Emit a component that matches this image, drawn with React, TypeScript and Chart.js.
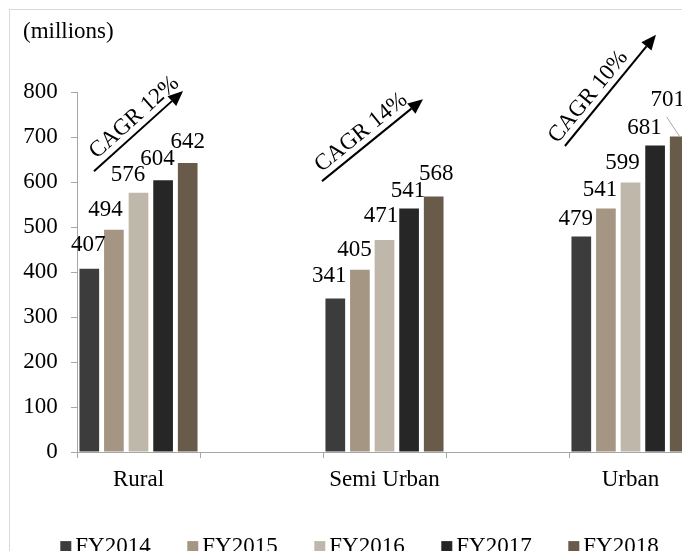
import React, { useEffect, useRef } from "react";
import { Chart, registerables } from "chart.js";

Chart.register(...registerables);

// ---- data ----
const categories = ["Rural", "", "Semi Urban", "", "Urban"];
const seriesNames = ["FY2014", "FY2015", "FY2016", "FY2017", "FY2018"];
const fy2014 = [407, null, 341, null, 479];
const fy2015 = [494, null, 405, null, 541];
const fy2016 = [576, null, 471, null, 599];
const fy2017 = [604, null, 541, null, 681];
const fy2018 = [642, null, 568, null, 701];
const cagrText = ["CAGR 12%", null, "CAGR 14%", null, "CAGR 10%"];
const yMin = 0;
const yMax = 800;
const yStep = 100;
const unitTitle = "(millions)";

// ---- styles ----
const FONT = "'Liberation Serif', 'Times New Roman', serif";
const FS = 23;
const colors = ["#3c3c3c", "#a59683", "#bfb7a9", "#262626", "#695b4a"];
const axisColor = "#a6a6a6";

// label nudges [dx, dy from bar top] per series, per category
const labelNudge = [
  [[-1, -24], null, [-6, -22.5], null, [-5.5, -17.5]],
  [[-8.5, -20], null, [-5.5, -20], null, [-6, -18.5]],
  [[-10.5, -18], null, [-3.5, -24], null, [-8, -19.5]],
  [[-5.5, -21], null, [-1, -17.5], null, [-10.5, -17.5]],
  [[0, -21], null, [2.5, -22], null, [-12, -36.5]],
];
// leader lines: [series, category]
const leaders = [[4, 4]];

// arrows in (category offset in category widths, value) space
const arrows = [
  { cat: 0, dx0: -0.362, v0: 624, dx1: 0.362, v1: 802, shift: 6, perp: 13 },
  { cat: 2, dx0: -0.508, v0: 602, dx1: 0.313, v1: 784, shift: -4, perp: 13 },
  { cat: 4, dx0: -0.533, v0: 680, dx1: 0.207, v1: 927, shift: -19, perp: 13 },
];

const titlePlugin = {
  id: "unitTitle",
  afterDraw(chart: any) {
    const ctx = chart.ctx;
    ctx.save();
    ctx.font = `${FS}px ${FONT}`;
    ctx.fillStyle = "#000";
    ctx.textAlign = "left";
    ctx.textBaseline = "middle";
    ctx.fillText(unitTitle, 13, 22);
    ctx.restore();
  },
};

const barLabelPlugin = {
  id: "barLabels",
  afterDatasetsDraw(chart: any) {
    const ctx = chart.ctx;
    ctx.save();
    ctx.font = `${FS}px ${FONT}`;
    ctx.fillStyle = "#000";
    ctx.textAlign = "center";
    ctx.textBaseline = "middle";
    chart.data.datasets.forEach((ds: any, di: number) => {
      const meta = chart.getDatasetMeta(di);
      meta.data.forEach((bar: any, i: number) => {
        const v = ds.data[i];
        if (v == null) return;
        const n = labelNudge[di][i] || [0, -20];
        const x = bar.x + n[0];
        const y = bar.y + n[1];
        ctx.fillText(String(v), x, y);
        if (leaders.some((l) => l[0] === di && l[1] === i)) {
          ctx.save();
          ctx.strokeStyle = axisColor;
          ctx.lineWidth = 1;
          ctx.beginPath();
          ctx.moveTo(x - 1, y + 17);
          ctx.lineTo(bar.x, bar.y);
          ctx.stroke();
          ctx.restore();
        }
      });
    });
    ctx.restore();
  },
};

const arrowPlugin = {
  id: "cagrArrows",
  afterDraw(chart: any) {
    const ctx = chart.ctx;
    const xs = chart.scales.x;
    const ys = chart.scales.y;
    const cw = xs.width / categories.length;
    ctx.save();
    arrows.forEach((a) => {
      const cx = xs.getPixelForValue(a.cat);
      const x0 = cx + a.dx0 * cw;
      const y0 = ys.getPixelForValue(a.v0);
      const x1 = cx + a.dx1 * cw;
      const y1 = ys.getPixelForValue(a.v1);
      const len = Math.hypot(x1 - x0, y1 - y0);
      const ux = (x1 - x0) / len;
      const uy = (y1 - y0) / len;
      const headLen = 15;
      const headHalf = 6.5;
      const bx = x1 - ux * headLen;
      const by = y1 - uy * headLen;
      ctx.strokeStyle = "#000";
      ctx.fillStyle = "#000";
      ctx.lineWidth = 2;
      ctx.beginPath();
      ctx.moveTo(x0, y0);
      ctx.lineTo(bx, by);
      ctx.stroke();
      ctx.beginPath();
      ctx.moveTo(x1, y1);
      ctx.lineTo(bx - uy * headHalf, by + ux * headHalf);
      ctx.lineTo(bx + uy * headHalf, by - ux * headHalf);
      ctx.closePath();
      ctx.fill();
      const txt = cagrText[a.cat];
      if (!txt) return;
      const nx = uy;
      const ny = -ux;
      const s = len / 2 + a.shift;
      const tx = x0 + ux * s + nx * a.perp;
      const ty = y0 + uy * s + ny * a.perp;
      ctx.save();
      ctx.translate(tx, ty);
      ctx.rotate(Math.atan2(uy, ux));
      ctx.font = `${FS}px ${FONT}`;
      ctx.textAlign = "center";
      ctx.textBaseline = "middle";
      ctx.fillText(txt, 0, 0);
      ctx.restore();
    });
    ctx.restore();
  },
};

const legendPlugin = {
  id: "customLegend",
  afterDraw(chart: any) {
    const ctx = chart.ctx;
    const xs = chart.scales.x;
    const y = xs.bottom + 45;
    const box = 11;
    const gapBoxText = 4;
    const gapItems = 36.6;
    ctx.save();
    ctx.font = `${FS}px ${FONT}`;
    ctx.textBaseline = "middle";
    ctx.textAlign = "left";
    const widths = seriesNames.map((s) => box + gapBoxText + ctx.measureText(s).width);
    const total = widths.reduce((a, b) => a + b, 0) + gapItems * (widths.length - 1);
    let x = chart.width / 2 - 3 - total / 2;
    seriesNames.forEach((s, i) => {
      ctx.fillStyle = colors[i];
      ctx.fillRect(x, y - box / 2, box, box);
      ctx.fillStyle = "#000";
      ctx.fillText(s, x + box + gapBoxText, y);
      x += widths[i] + gapItems;
    });
    ctx.restore();
  },
};

export default function App() {
  const ref = useRef<HTMLCanvasElement | null>(null);
  useEffect(() => {
    if (!ref.current) return;
    const series = [fy2014, fy2015, fy2016, fy2017, fy2018];
    const chart = new Chart(ref.current, {
      type: "bar",
      data: {
        labels: categories,
        datasets: series.map((d, i) => ({
          label: seriesNames[i],
          data: d,
          backgroundColor: colors[i],
          borderWidth: 0,
          barPercentage: 0.8,
          categoryPercentage: 1.0,
        })),
      },
      options: {
        animation: false,
        responsive: false,
        layout: { padding: { left: 0, right: 23, top: 82, bottom: 68.4 } },
        plugins: {
          legend: { display: false },
          tooltip: { enabled: false },
          title: { display: false },
        },
        scales: {
          x: {
            grid: {
              display: true,
              offset: true,
              drawOnChartArea: false,
              drawTicks: true,
              tickLength: 6,
              color: axisColor,
            },
            border: { display: true, color: axisColor, width: 1 },
            ticks: {
              color: "#000",
              font: { family: FONT, size: FS },
              padding: 8,
              autoSkip: false,
              maxRotation: 0,
            },
          },
          y: {
            min: yMin,
            max: yMax,
            grid: {
              display: true,
              drawOnChartArea: false,
              drawTicks: true,
              tickLength: 6,
              color: axisColor,
            },
            border: { display: true, color: axisColor, width: 1 },
            ticks: {
              stepSize: yStep,
              color: "#000",
              font: { family: FONT, size: FS },
              padding: 13.25,
            },
          },
        },
      },
      plugins: [barLabelPlugin, arrowPlugin, legendPlugin, titlePlugin],
    } as any);
    return () => chart.destroy();
  }, []);

  return (
    <div
      style={{
        position: "fixed",
        left: 0,
        top: 0,
        width: 682,
        height: 551,
        overflow: "hidden",
        background: "#fff",
      }}
    >
      <div
        style={{
          position: "absolute",
          left: 9,
          top: 9,
          width: 705,
          height: 560,
          border: "1px solid #d9d9d9",
        }}
      >
        <canvas ref={ref} width={705} height={560} style={{ display: "block" }} />
      </div>
    </div>
  );
}
